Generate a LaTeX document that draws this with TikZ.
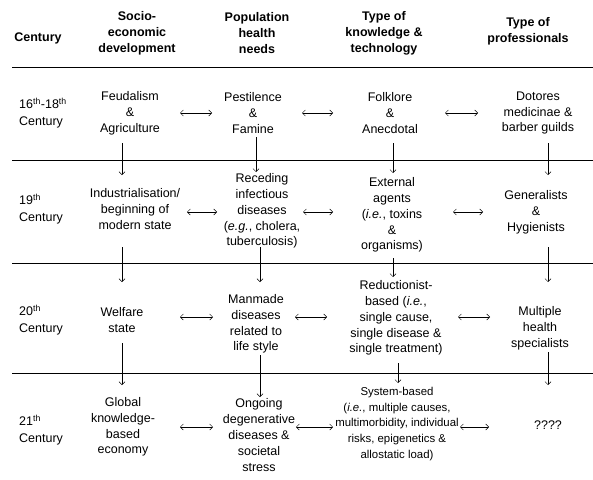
\documentclass[tikz,border=0pt]{standalone}
\usepackage{fontspec}
\setmainfont{Liberation Sans}
\usetikzlibrary{arrows.meta}
\newcommand\hlink[5]{\draw[hArr,shorten <=#4pt,shorten >=#5pt] (#1.center |- #3) -- (#2.center |- #3);}
\newcommand\vlink[5]{\draw[vArr,shorten <=#4pt,shorten >=#5pt] (#1.center -| #3) -- (#2.center -| #3);}
\begin{document}
\begin{tikzpicture}[x=1pt,y=-1pt,
  txt/.style={align=center,inner sep=0pt,font=\fontsize{12.5}{15.8}\selectfont},
  txtsmall/.style={align=center,inner sep=0pt,font=\fontsize{11.4}{15.6}\selectfont},
  hdr/.style={align=center,inner sep=0pt,font=\fontsize{12.5}{16.2}\selectfont\bfseries},
  cent/.style={align=left,anchor=west,inner sep=0pt,font=\fontsize{12.5}{16.5}\selectfont},
  hrule/.style={line width=0.8pt},
  hArr/.style={line width=0.5pt,{Straight Barb[length=3pt,width=6pt]}-{Straight Barb[length=3pt,width=6pt]}},
  vArr/.style={line width=0.5pt,-{Straight Barb[length=3pt,width=6pt]}}]
\useasboundingbox (0,0) rectangle (593,479);
% header
\node[hdr] (hc) at (38,38) {Century};
\node[hdr] (h1) at (137,33) {Socio-\\economic\\development};
\node[hdr] (h2) at (257,33) {Population\\health\\needs};
\node[hdr] (h3) at (384,33) {Type of\\knowledge \&\\technology};
\node[hdr] (h4) at (528,31) {Type of\\professionals};
% rules
\draw[hrule] (12,67) -- (593,67);
\draw[hrule] (12,160) -- (593,160);
\draw[hrule] (12,263) -- (593,263);
\draw[hrule] (12,373) -- (593,373);
% row coordinates and arrow columns
\coordinate (r1) at (0,113);
\coordinate (r2) at (0,212);
\coordinate (r3) at (0,317);
\coordinate (r4) at (0,427);
\coordinate (xa) at (122,0);
\coordinate (xb1) at (256,0);
\coordinate (xb2) at (260,0);
\coordinate (xc1) at (393,0);
\coordinate (xc2) at (398,0);
\coordinate (xd) at (548,0);
% row 1
\node[cent] (y1) at (19,113) {16\textsuperscript{th}-18\textsuperscript{th}\\Century};
\node[txt] (a1) at (130,113) {Feudalism\\\&\\Agriculture};
\node[txt] (b1) at (253,113) {Pestilence\\\&\\Famine};
\node[txt] (c1) at (390,113) {Folklore\\\&\\Anecdotal};
\node[txt] (d1) at (538,113) {Dotores\\medicinae \&\\barber guilds};
% row 2
\node[cent] (y2) at (19,209) {19\textsuperscript{th}\\Century};
\node[txt] (a2) at (135,209) {Industrialisation/\\beginning of\\modern state};
\node[txt] (b2) at (262,211) {Receding\\infectious\\diseases\\(\textit{e.g.}, cholera,\\tuberculosis)};
\node[txt] (c2) at (392,215) {External\\agents\\(\textit{i.e.}, toxins\\\&\\organisms)};
\node[txt] (d2) at (536,212) {Generalists\\\&\\Hygienists};
% row 3
\node[cent] (y3) at (19,320) {20\textsuperscript{th}\\Century};
\node[txt] (a3) at (122,320) {Welfare\\state};
\node[txt] (b3) at (256,324) {Manmade\\diseases\\related to\\life style};
\node[txt] (c3) at (396,318) {Reductionist-\\based (\textit{i.e.},\\single cause,\\single disease \&\\single treatment)};
\node[txt] (d3) at (540,328) {Multiple\\health\\specialists};
% row 4
\node[cent] (y4) at (19,430) {21\textsuperscript{th}\\Century};
\node[txt] (a4) at (123,427) {Global\\knowledge-\\based\\economy};
\node[txt] (b4) at (259,435) {Ongoing\\degenerative\\diseases \&\\societal\\stress};
\node[txtsmall] (c4) at (397,424) {System-based\\(\textit{i.e.}, multiple causes,\\multimorbidity, individual\\risks, epigenetics \&\\allostatic load)};
\node[txt] (d4) at (548,425) {????};
% horizontal links
\hlink{a1}{b1}{r1}{50}{41}
\hlink{b1}{c1}{r1}{49}{57}
\hlink{c1}{d1}{r1}{55}{60}
\hlink{a2}{b2}{r2}{52}{45}
\hlink{b2}{c2}{r2}{41}{59}
\hlink{c2}{d2}{r2}{61}{53}
\hlink{a3}{b3}{r3}{58}{43}
\hlink{b3}{c3}{r3}{39}{69}
\hlink{c3}{d3}{r3}{62}{50}
\hlink{a4}{b4}{r4}{57}{46}
\hlink{b4}{c4}{r4}{37}{64}
\hlink{c4}{d4}{r4}{63}{59}
% vertical links
\vlink{a1}{a2}{xa}{30}{34}
\vlink{a2}{a3}{xa}{38}{38}
\vlink{a3}{a4}{xa}{23}{42}
\vlink{b1}{b2}{xb1}{24}{39}
\vlink{b2}{b3}{xb2}{36}{42}
\vlink{b3}{b4}{xb2}{31}{38}
\vlink{c1}{c2}{xc1}{30}{42}
\vlink{c2}{c3}{xc1}{43}{41}
\vlink{c3}{c4}{xc2}{45}{41}
\vlink{d1}{d2}{xd}{30}{37}
\vlink{d2}{d3}{xd}{35}{46}
\vlink{d3}{d4}{xd}{24}{40}
\end{tikzpicture}
\end{document}
